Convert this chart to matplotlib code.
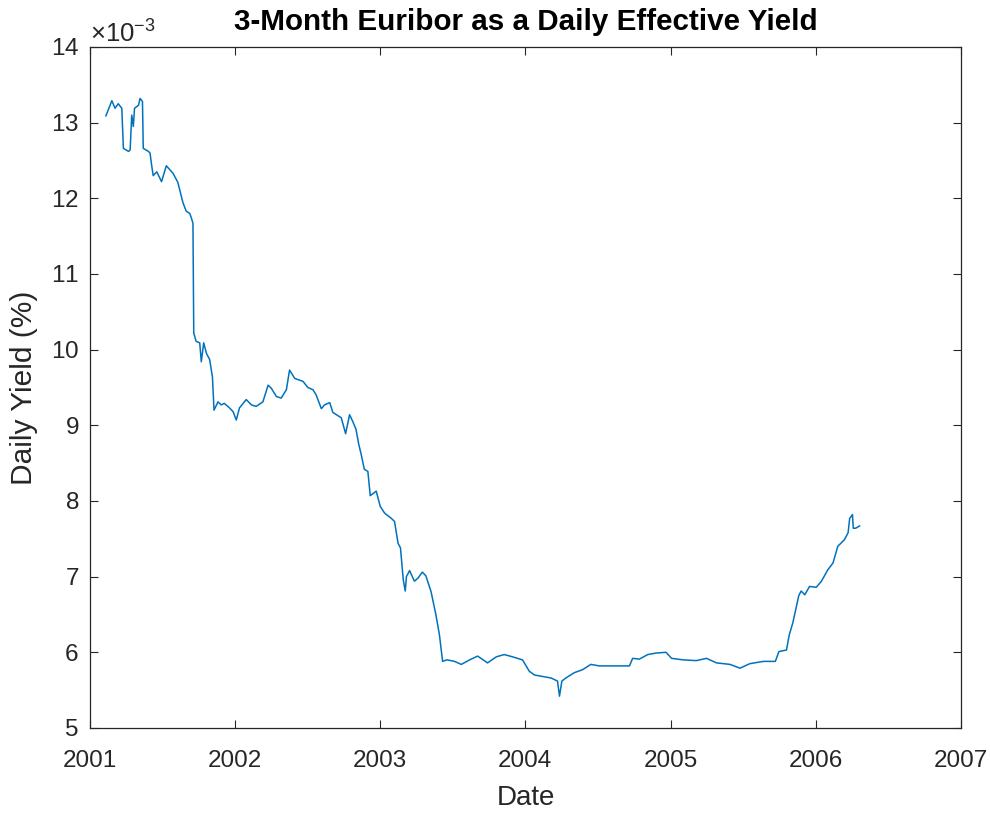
import pandas as pd
import matplotlib
matplotlib.use("Agg")
import matplotlib.pyplot as plt
import matplotlib.dates as mdates

plt.rcParams["font.family"] = ["Liberation Sans", "DejaVu Sans"]
plt.rcParams["mathtext.fontset"] = "custom"
plt.rcParams["mathtext.rm"] = "Liberation Sans"
plt.rcParams["mathtext.it"] = "Liberation Sans"

# 3-month Euribor expressed as daily effective yield (in units of 1e-3 %)
dates = [
    "2001-02-10", "2001-02-25", "2001-03-05", "2001-03-13", "2001-03-22", "2001-03-26",
    "2001-04-08", "2001-04-12", "2001-04-16", "2001-04-20", "2001-04-23", "2001-05-03",
    "2001-05-07", "2001-05-13", "2001-05-15", "2001-05-28", "2001-06-01", "2001-06-05",
    "2001-06-09", "2001-06-18", "2001-06-30", "2001-07-12", "2001-07-29", "2001-08-10",
    "2001-08-19", "2001-08-23", "2001-08-31", "2001-09-09", "2001-09-13", "2001-09-17",
    "2001-09-19", "2001-09-25", "2001-10-04", "2001-10-08", "2001-10-14", "2001-10-21",
    "2001-10-29", "2001-11-05", "2001-11-09", "2001-11-19", "2001-11-27", "2001-12-05",
    "2001-12-18", "2001-12-27", "2002-01-04", "2002-01-12", "2002-01-29", "2002-02-11",
    "2002-02-23", "2002-03-12", "2002-03-25", "2002-04-02", "2002-04-15", "2002-04-27",
    "2002-05-10", "2002-05-18", "2002-05-31", "2002-06-21", "2002-07-03", "2002-07-16",
    "2002-07-24", "2002-08-06", "2002-08-14", "2002-08-27", "2002-09-04", "2002-09-25",
    "2002-10-06", "2002-10-16", "2002-10-24", "2002-11-01", "2002-11-08", "2002-11-14",
    "2002-11-22", "2002-12-01", "2002-12-07", "2002-12-22", "2003-01-01", "2003-01-12",
    "2003-01-29", "2003-02-06", "2003-02-15", "2003-02-21", "2003-02-28", "2003-03-05",
    "2003-03-08", "2003-03-16", "2003-03-28", "2003-04-06", "2003-04-17", "2003-04-26",
    "2003-05-09", "2003-05-21", "2003-05-30", "2003-06-07", "2003-06-18", "2003-07-07",
    "2003-07-24", "2003-08-14", "2003-09-03", "2003-09-28", "2003-10-20", "2003-11-09",
    "2003-11-30", "2003-12-25", "2004-01-11", "2004-01-24", "2004-02-14", "2004-03-06",
    "2004-03-22", "2004-03-27", "2004-04-02", "2004-04-12", "2004-05-03", "2004-05-24",
    "2004-06-14", "2004-07-05", "2004-08-08", "2004-09-19", "2004-09-27", "2004-10-14",
    "2004-11-04", "2004-11-25", "2004-12-20", "2005-01-03", "2005-02-01", "2005-03-06",
    "2005-04-01", "2005-04-26", "2005-05-30", "2005-06-24", "2005-07-19", "2005-08-22",
    "2005-09-21", "2005-09-30", "2005-10-19", "2005-10-26", "2005-11-04", "2005-11-13",
    "2005-11-19", "2005-11-25", "2005-12-04", "2005-12-16", "2006-01-02", "2006-01-15",
    "2006-01-31", "2006-02-13", "2006-02-25", "2006-03-14", "2006-03-23", "2006-03-27",
    "2006-04-03", "2006-04-05", "2006-04-11", "2006-04-21",
]
yield_e3 = [
    13.09, 13.29, 13.19, 13.25, 13.19, 12.66,
    12.62, 12.64, 13.10, 12.95, 13.19, 13.23,
    13.32, 13.28, 12.66, 12.62, 12.60, 12.44,
    12.30, 12.35, 12.22, 12.43, 12.33, 12.21,
    12.02, 11.94, 11.83, 11.80, 11.74, 11.67,
    10.22, 10.11, 10.09, 9.84, 10.09, 9.95,
    9.87, 9.64, 9.20, 9.31, 9.27, 9.29,
    9.23, 9.18, 9.07, 9.23, 9.34, 9.27,
    9.25, 9.31, 9.53, 9.49, 9.38, 9.36,
    9.47, 9.73, 9.62, 9.58, 9.50, 9.47,
    9.40, 9.22, 9.27, 9.30, 9.17, 9.10,
    8.89, 9.14, 9.05, 8.95, 8.75, 8.62,
    8.42, 8.39, 8.07, 8.13, 7.93, 7.84,
    7.77, 7.73, 7.44, 7.38, 6.96, 6.81,
    7.00, 7.08, 6.94, 6.98, 7.06, 7.01,
    6.80, 6.50, 6.23, 5.88, 5.90, 5.88,
    5.84, 5.90, 5.95, 5.86, 5.94, 5.97,
    5.94, 5.90, 5.75, 5.70, 5.68, 5.66,
    5.62, 5.42, 5.62, 5.66, 5.73, 5.77,
    5.84, 5.82, 5.82, 5.82, 5.92, 5.91,
    5.97, 5.99, 6.00, 5.92, 5.90, 5.89,
    5.92, 5.86, 5.84, 5.79, 5.85, 5.88,
    5.88, 6.01, 6.03, 6.23, 6.39, 6.61,
    6.75, 6.81, 6.76, 6.87, 6.86, 6.94,
    7.09, 7.18, 7.40, 7.49, 7.58, 7.77,
    7.82, 7.64, 7.64, 7.67,
]

x = pd.to_datetime(dates)
y = [v * 1e-3 for v in yield_e3]

axis_col = "#262626"

fig = plt.figure(figsize=(9.9, 8.13), dpi=100)
ax = fig.add_axes([0.0909, 0.1046, 0.8798, 0.8376])

ax.plot(x, y, color="#0072BD", linewidth=1.1)

ax.set_xlim(pd.Timestamp("2001-01-01"), pd.Timestamp("2007-01-01"))
ax.set_ylim(5e-3, 14e-3)
ax.xaxis.set_major_locator(mdates.YearLocator())
ax.xaxis.set_major_formatter(mdates.DateFormatter("%Y"))
ax.set_yticks([v * 1e-3 for v in range(5, 15)])
# fixed exponent, MATLAB style "x10^-3" above the axis
ax.ticklabel_format(axis="y", style="sci", scilimits=(-3, -3), useMathText=True)
ax.yaxis.get_offset_text().set_fontsize(18.5)
ax.yaxis.get_offset_text().set_color(axis_col)

ax.tick_params(direction="in", top=True, right=True, length=6, width=0.8,
               color=axis_col, labelcolor=axis_col, labelsize=17.5)
ax.tick_params(axis="x", pad=16)
ax.tick_params(axis="y", pad=8)
for s in ax.spines.values():
    s.set_color(axis_col)
    s.set_linewidth(0.9)

ax.set_title("3-Month Euribor as a Daily Effective Yield", fontsize=21.3,
             fontweight="bold", color="black", pad=12)
ax.set_xlabel("Date", fontsize=20, color=axis_col, labelpad=9)
ax.set_ylabel("Daily Yield (%)", fontsize=21.5, color=axis_col, labelpad=9)

fig.savefig("out.png", dpi=100, facecolor="white")
plt.close(fig)
